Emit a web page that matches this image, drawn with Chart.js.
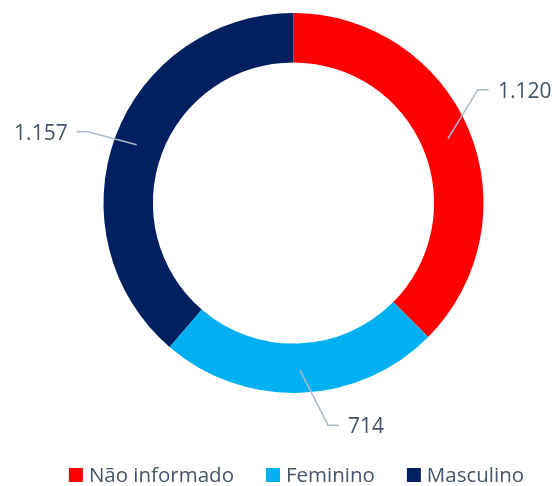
<!DOCTYPE html>
<html>
<head>
<meta charset="utf-8">
<script src="https://cdn.jsdelivr.net/npm/chart.js@4.4.0/dist/chart.umd.min.js"></script>
<style>
  html, body { margin: 0; padding: 0; background: #fff; }
  #wrap { width: 557px; height: 486px; }
</style>
</head>
<body>
<div id="wrap"><canvas id="genderChart"></canvas></div>
<script>
const categories = ['Não informado', 'Feminino', 'Masculino'];
const counts = [1120, 714, 1157];
const sliceColors = ['#FF0000', '#00B0F0', '#002060'];

// elbow of each leader line, relative to the middle of its slice
const leaderOffsets = [[30, -49], [28, 55], [-49, -13]];

const FONT = "'Open Sans', sans-serif";
const TEXT = '#44546A';
const LEADER = '#ADB9CA';

const fmt = v => String(v).replace(/\B(?=(\d{3})+(?!\d))/g, '.');

const leaderLabels = {
    id: 'leaderLabels',
    afterDatasetsDraw(chart) {
        const { ctx } = chart;
        const meta = chart.getDatasetMeta(0);
        ctx.save();
        meta.data.forEach((arc, i) => {
            const { x, y, startAngle, endAngle, innerRadius, outerRadius } =
                arc.getProps(['x', 'y', 'startAngle', 'endAngle', 'innerRadius', 'outerRadius'], true);
            const mid = (startAngle + endAngle) / 2;
            const r = (innerRadius + outerRadius) / 2 + 2;
            const ax = x + Math.cos(mid) * r;
            const ay = y + Math.sin(mid) * r;
            const [dx, dy] = leaderOffsets[i];
            const ex = ax + dx, ey = ay + dy;
            const dir = dx >= 0 ? 1 : -1;
            const hx = ex + dir * 11;

            ctx.strokeStyle = LEADER;
            ctx.lineWidth = 1.5;
            ctx.beginPath();
            ctx.moveTo(ax, ay);
            ctx.lineTo(ex, ey);
            ctx.lineTo(hx, ey);
            ctx.stroke();

            ctx.font = `21px ${FONT}`;
            ctx.fillStyle = TEXT;
            ctx.textBaseline = 'alphabetic';
            ctx.textAlign = dir > 0 ? 'left' : 'right';
            ctx.fillText(fmt(counts[i]), hx + dir * 9, ey + 8);
        });
        ctx.restore();
    }
};

// bottom legend, drawn by hand so box/text spacing matches
const bottomLegend = {
    id: 'bottomLegend',
    afterDraw(chart) {
        const { ctx } = chart;
        const box = 14, gap = 6, spacing = 32, baseline = 482;
        ctx.save();
        ctx.font = `20.5px ${FONT}`;
        const widths = categories.map(c => ctx.measureText(c).width);
        const total = widths.reduce((s, w) => s + box + gap + w, 0) + spacing * (categories.length - 1);
        let cx = 296.5 - total / 2;
        ctx.textBaseline = 'alphabetic';
        ctx.textAlign = 'left';
        categories.forEach((c, i) => {
            ctx.fillStyle = sliceColors[i];
            ctx.fillRect(cx, baseline - box, box, box);
            ctx.fillStyle = TEXT;
            ctx.fillText(c, cx + box + gap, baseline);
            cx += box + gap + widths[i] + spacing;
        });
        ctx.restore();
    }
};

new Chart(document.getElementById('genderChart'), {
    type: 'doughnut',
    data: {
        labels: categories,
        datasets: [{
            data: counts,
            backgroundColor: sliceColors,
            borderWidth: 0,
        }]
    },
    options: {
        responsive: true,
        maintainAspectRatio: false,
        animation: false,
        cutout: '74%',
        layout: { padding: { top: 13, bottom: 93, left: 30, right: 0 } },
        plugins: {
            legend: { display: false },
            tooltip: { enabled: false },
        },
    },
    plugins: [leaderLabels, bottomLegend]
});
</script>
</body>
</html>
